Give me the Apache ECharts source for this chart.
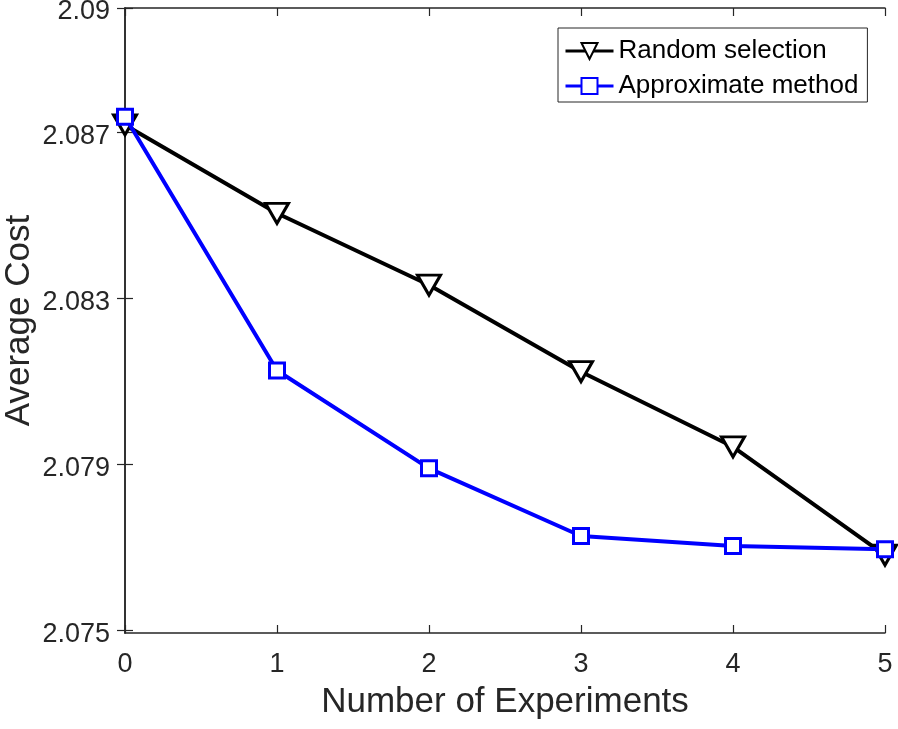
<!DOCTYPE html>
<html>
<head>
<meta charset="utf-8">
<script src="https://cdn.jsdelivr.net/npm/echarts@6/dist/echarts.min.js"></script>
<style>
html,body{margin:0;padding:0;background:#fff;}
#chart{width:898px;height:729px;}
</style>
</head>
<body>
<div id="chart"></div>
<script>
const experiments = [0, 1, 2, 3, 4, 5];
const randomSelection = [2.08718, 2.08505, 2.08332, 2.08123, 2.07942, 2.07681];
const approximateMethod = [2.08738, 2.08126, 2.07890, 2.07727, 2.07703, 2.07695];
const yTicks = [2.075, 2.079, 2.083, 2.087, 2.09];
const yTickLabels = ['2.075', '2.079', '2.083', '2.087', '2.09'];
const xTicks = [0, 1, 2, 3, 4, 5];

const FONT = '"Liberation Sans", Arial, Helvetica, sans-serif';
const AX = '#262626';

const chart = echarts.init(document.getElementById('chart'), null, {renderer: 'canvas'});

function pairs(vals) { return experiments.map((x, i) => [x, vals[i]]); }

const yMin = 2.07493, yMax = 2.0900;

const option = {
  animation: false,
  backgroundColor: '#fff',
  grid: {left: 125, right: 13, top: 8, bottom: 96, containLabel: false, outerBoundsMode: 'none'},
  legend: {
    left: 558, top: 28,
    orient: 'vertical',
    backgroundColor: '#fff',
    borderColor: AX, borderWidth: 1,
    padding: [10, 9, 3, 6],
    itemGap: 9,
    itemWidth: 48, itemHeight: 20,
    lineStyle: {width: 3},
    textStyle: {fontFamily: FONT, fontSize: 26, lineHeight: 26, color: '#000'},
    data: ['Random selection', 'Approximate method']
  },
  xAxis: [
    {
      type: 'value', min: 0, max: 5, interval: 1, position: 'bottom',
      name: 'Number of Experiments', nameLocation: 'middle', nameGap: 52, nameMoveOverlap: false,
      nameTextStyle: {fontFamily: FONT, fontSize: 35, color: AX},
      axisLine: {show: true, lineStyle: {color: AX, width: 1.5}},
      axisTick: {show: true, inside: true, length: 8, lineStyle: {color: AX, width: 1.2}, customValues: xTicks},
      axisLabel: {fontFamily: FONT, fontSize: 27, color: AX, margin: 18, customValues: xTicks,
        formatter: v => String(v)},
      splitLine: {show: false}
    },
    {
      type: 'value', min: 0, max: 5, interval: 1, position: 'top',
      axisLine: {show: true, lineStyle: {color: AX, width: 1.5}},
      axisTick: {show: true, inside: true, length: 8, lineStyle: {color: AX, width: 1.2}, customValues: xTicks},
      axisLabel: {show: false},
      splitLine: {show: false}
    }
  ],
  yAxis: [
    {
      type: 'value', min: yMin, max: yMax, position: 'left',
      name: 'Average Cost', nameLocation: 'middle', nameGap: 88, nameMoveOverlap: false,
      nameTextStyle: {fontFamily: FONT, fontSize: 35, color: AX},
      axisLine: {show: true, lineStyle: {color: AX, width: 1.5}},
      axisTick: {show: true, inside: true, length: 8, lineStyle: {color: AX, width: 1.2}, customValues: yTicks},
      axisLabel: {fontFamily: FONT, fontSize: 27, color: AX, margin: 15, customValues: yTicks,
        rich: {t: {fontFamily: FONT, fontSize: 27, color: AX, lineHeight: 27, padding: [8, 0, 0, 0]}},
        formatter: v => { const i = yTicks.findIndex(t => Math.abs(t - v) < 1e-9); return i >= 0 ? '{t|' + yTickLabels[i] + '}' : ''; }},
      splitLine: {show: false}
    },
    {
      type: 'value', min: yMin, max: yMax, position: 'right',
      axisLine: {show: true, lineStyle: {color: AX, width: 1.5}},
      axisTick: {show: true, inside: true, length: 8, lineStyle: {color: AX, width: 1.2}, customValues: yTicks},
      axisLabel: {show: false},
      splitLine: {show: false}
    }
  ],
  series: [
    {
      name: 'Random selection', type: 'line', xAxisIndex: 0, yAxisIndex: 0,
      data: pairs(randomSelection),
      symbol: 'triangle', symbolRotate: 180, symbolSize: [23, 20],
      showAllSymbol: true,
      lineStyle: {color: '#000', width: 4},
      itemStyle: {color: '#fff', borderColor: '#000', borderWidth: 3},
      z: 2
    },
    {
      name: 'Approximate method', type: 'line', xAxisIndex: 0, yAxisIndex: 0,
      data: pairs(approximateMethod),
      symbol: 'rect', symbolSize: 15,
      showAllSymbol: true,
      lineStyle: {color: '#0000ff', width: 4},
      itemStyle: {color: '#fff', borderColor: '#0000ff', borderWidth: 3},
      z: 3
    }
  ]
};
chart.setOption(option);
</script>
</body>
</html>
